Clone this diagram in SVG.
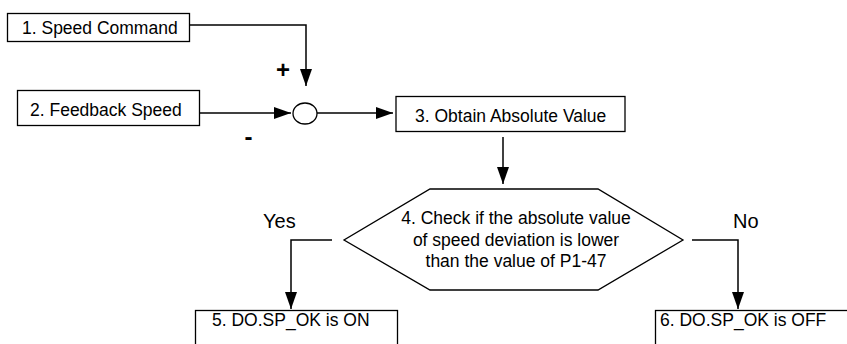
<svg xmlns="http://www.w3.org/2000/svg" width="847" height="344" viewBox="0 0 847 344">
<style>
.box{fill:#fff;stroke:#000;stroke-width:1.3}
.ln{fill:none;stroke:#000;stroke-width:1.5}
.t{font-family:"Liberation Sans",Arial,sans-serif;font-size:17.5px;fill:#000}
.lbl{font-family:"Liberation Sans",Arial,sans-serif;font-size:20px;fill:#000}
.sg{font-family:"Liberation Sans",Arial,sans-serif;font-size:24px;font-weight:bold;fill:#000;text-anchor:middle}
</style>
<defs>
<marker id="ah" markerUnits="userSpaceOnUse" markerWidth="18" markerHeight="12" refX="17" refY="6" orient="auto">
<path d="M0,0 L17,6 L0,12 Z" fill="#000"/>
</marker>
</defs>
<rect width="847" height="344" fill="#fff"/>
<g id="connectors">
<polyline class="ln" points="190,25 306,25 306,86" marker-end="url(#ah)"/>
<line class="ln" x1="200" y1="113" x2="291" y2="113" marker-end="url(#ah)"/>
<line class="ln" x1="317" y1="113" x2="393" y2="113" marker-end="url(#ah)"/>
<line class="ln" x1="503" y1="137" x2="503" y2="184" marker-end="url(#ah)"/>
<polyline class="ln" points="332,240 291,240 291,309" marker-end="url(#ah)"/>
<polyline class="ln" points="692,240 738,240 738,309" marker-end="url(#ah)"/>
<text class="sg" x="283" y="78">+</text>
<text class="sg" x="248.5" y="145">-</text>
<text class="lbl" x="263" y="228">Yes</text>
<text class="lbl" x="733" y="228">No</text>
</g>
<g id="n1">
<rect class="box" x="7.5" y="13.5" width="182" height="28"/>
<text class="t" x="22" y="33.5">1. Speed Command</text>
</g>
<g id="n2">
<rect class="box" x="17.5" y="90.5" width="182" height="35"/>
<text class="t" x="30" y="116">2. Feedback Speed</text>
</g>
<g id="sum">
<ellipse class="box" cx="305" cy="113.5" rx="12" ry="10.5"/>
</g>
<g id="n3">
<rect class="box" x="396" y="96.5" width="229" height="35"/>
<text class="t" x="415" y="122">3. Obtain Absolute Value</text>
</g>
<g id="n4">
<polygon class="box" points="430,189 598,189 683,240 598,290 430,290 344,240"/>
<text class="t" x="516" y="224" text-anchor="middle">4. Check if the absolute value</text>
<text class="t" x="516" y="246" text-anchor="middle">of speed deviation is lower</text>
<text class="t" x="516" y="267" text-anchor="middle">than the value of P1-47</text>
</g>
<g id="n5">
<rect class="box" x="195.5" y="310.5" width="202" height="45"/>
<text class="t" x="212" y="326">5. DO.SP_OK is ON</text>
</g>
<g id="n6">
<rect class="box" x="655.5" y="310.5" width="200" height="45"/>
<text class="t" x="660" y="326">6. DO.SP_OK is OFF</text>
</g>
</svg>
